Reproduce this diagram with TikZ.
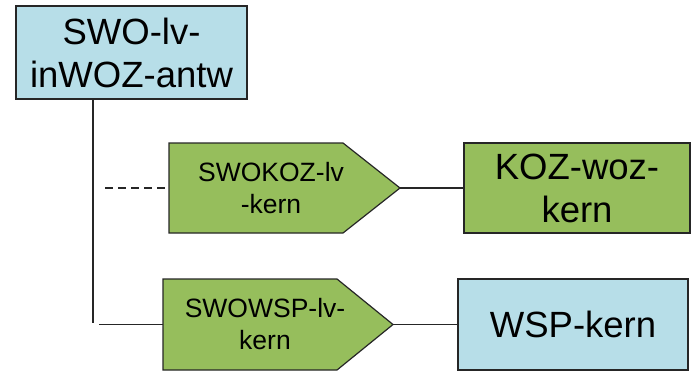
\documentclass[tikz,border=0pt]{standalone}
\usepackage{fontspec}
\setmainfont{Liberation Sans}
\definecolor{lichtblauw}{RGB}{183,222,232}
\definecolor{olijf}{RGB}{150,190,92}

\begin{document}
\begin{tikzpicture}[x=1pt,y=1pt,
		groot/.style={draw=black!85,line width=1.2pt,align=center,inner sep=0pt,
			font=\fontsize{36.5}{43}\selectfont},
		pijl/.style={draw=black!85,line width=1.2pt,fill=olijf,line join=miter},
		pijltekst/.style={align=center,font=\fontsize{26.5}{32}\selectfont},
		lijn/.style={line width=1.2pt,black!85}]
		\useasboundingbox (0,0) rectangle (692,373);
		% de blokken
		\node[groot,fill=lichtblauw,minimum width=231,minimum height=93] (swo) at (131.5,320.5) {SWO-lv-\\inWOZ-antw};
		\node[groot,fill=olijf,minimum width=226,minimum height=90] (koz) at (577,185) {KOZ-woz-\\kern};
		\node[groot,fill=lichtblauw,minimum width=230,minimum height=91] (wsp) at (573,48.5) {WSP-kern};
		% de pijlvormen
		\coordinate (swokozW) at (169,185);
		\coordinate (swokozO) at (400,185);
		\draw[pijl] (169,230) -- (343,230) -- (swokozO) -- (343,140) -- (169,140) -- cycle;
		\node[pijltekst] (swokoz) at (271,185) {SWOKOZ-lv\\-kern};
		\coordinate (swowspW) at (163,48.5);
		\coordinate (swowspO) at (393,48.5);
		\draw[pijl] (163,94) -- (337,94) -- (swowspO) -- (337,3) -- (163,3) -- cycle;
		\node[pijltekst] (swowsp) at (265,48.5) {SWOWSP-lv-\\kern};
		% lijnen
		\coordinate (stam) at (93,50);
		\coordinate (aftak) at (99,48.5);
		\coordinate (streep) at (105,185);
		\draw[lijn] (swo.south -| stam) -- (stam);
		\draw[lijn] (aftak) -- (swowspW);
		\draw[lijn,dash pattern=on 8pt off 5pt] (streep) -- (swokozW);
		\draw[lijn] (swokozO) -- (koz.west);
		\draw[lijn] (swowspO) -- (wsp.west);
	\end{tikzpicture}
\end{document}
